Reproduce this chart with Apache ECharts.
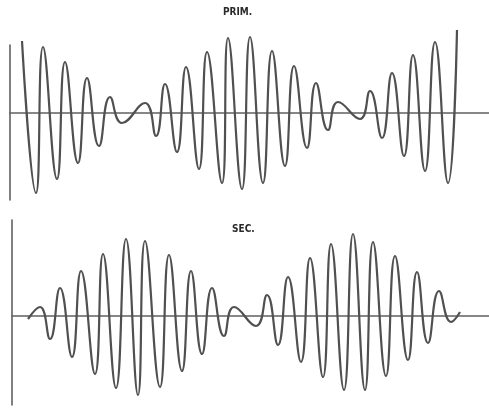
<!DOCTYPE html>
<html>
<head>
<meta charset="utf-8">
<script src="https://cdn.jsdelivr.net/npm/echarts@6/dist/echarts.min.js"></script>
<style>html,body{margin:0;padding:0;background:#fff}#c{width:489px;height:409px}</style>
</head>
<body>
<div id="c"></div>
<script>
// Primary current: extrema (time position, amplitude)
var primTime = [22,36,43,57,65,78,87,99,110,122,145,156,165,177,186,199,207,222,228,242,250,263,272,285,294,307,316,328,338,360,370,382,392,404,413,425,435,448,457];
var primAmp  = [72,-80,66,-66,51,-50,35,-33,16,-10,10,-23,29,-39,46,-56,61,-70,75,-76,76,-70,62,-53,47,-35,30,-17,11,-6,22,-25,40,-43,58,-58,71,-70,83];
// Secondary current
var secTime = [28,40,50,60,72,81,95,103,116,126,138,145,160,169,182,191,202,212,224,234,256,267,278,288,301,310,323,331,344,353,365,373,386,395,408,417,428,439,451,460];
var secAmp  = [-3,9,-23,28,-41,45,-58,62,-72,77,-79,75,-71,61,-55,45,-38,28,-20,9,-10,21,-29,39,-46,58,-61,72,-74,82,-74,74,-60,60,-44,44,-27,25,-6,4];
var titles = ['PRIM.', 'SEC.'];

function pairs(t, a){ return t.map(function(v,i){ return [v, a[i]]; }); }

var ink = '#505050';
var axisStyle = { show: true, onZero: true, lineStyle: { color: '#606060', width: 1.6 } };
function xAx(idx, min){ return { type:'value', gridIndex:idx, min:min, max:489, axisLine: axisStyle, axisTick:{show:false}, axisLabel:{show:false}, splitLine:{show:false} }; }
function yAx(idx, min, max){ return { type:'value', gridIndex:idx, min:min, max:max, axisLine: { show:true, onZero:false, lineStyle:{ color:'#606060', width:1.6 } }, axisTick:{show:false}, axisLabel:{show:false}, splitLine:{show:false} }; }

var tStyle = { fontFamily: 'DejaVu Sans Condensed, DejaVu Sans', fontWeight: 'bold', fontSize: 10, color: '#2a2a2a' };
var chart = echarts.init(document.getElementById('c'), null, { renderer: 'canvas' });
chart.setOption({
  animation: false,
  backgroundColor: '#fff',
  title: [
    { text: titles[0], left: 223, top: 7, padding: 0, textStyle: tStyle },
    { text: titles[1], left: 232, top: 224, padding: 0, textStyle: tStyle }
  ],
  grid: [
    { left: 10, right: 0, top: 45, height: 155 },
    { left: 12, right: 0, top: 220, height: 185 }
  ],
  xAxis: [ xAx(0, 10), xAx(1, 12) ],
  yAxis: [ yAx(0, -87, 68), yAx(1, -89, 96) ],
  series: [
    { type:'line', xAxisIndex:0, yAxisIndex:0, data: pairs(primTime, primAmp), smooth: 0.5, symbol:'none', clip:false, lineStyle:{ color: ink, width: 2.2 } },
    { type:'line', xAxisIndex:1, yAxisIndex:1, data: pairs(secTime, secAmp), smooth: 0.5, symbol:'none', clip:false, lineStyle:{ color: ink, width: 2.2 } }
  ]
});
</script>
</body>
</html>
